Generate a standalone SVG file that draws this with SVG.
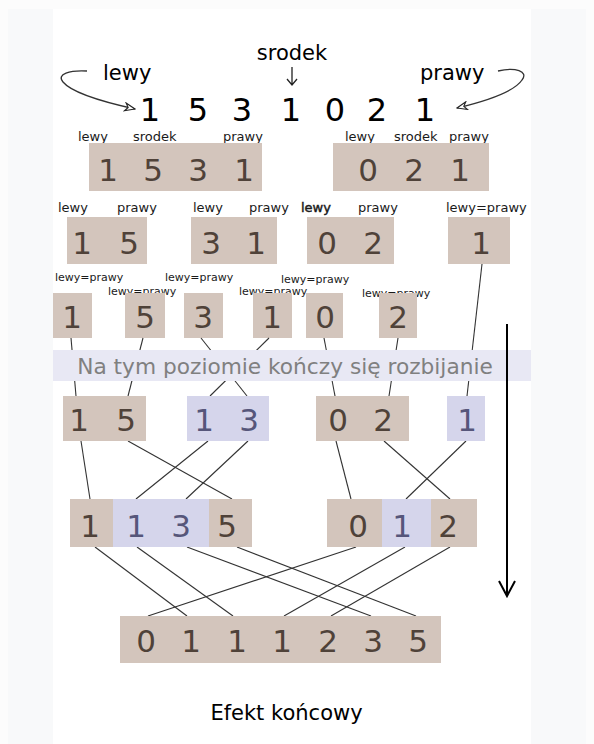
<svg xmlns="http://www.w3.org/2000/svg" width="594" height="744" viewBox="0 0 594 744">
  <style>
    text { font-family: "DejaVu Sans", Verdana, sans-serif; }
    .tan { fill: #d3c5bc; }
    .lav { fill: #d5d5eb; }
    .dt { font-size: 31px; fill: #4f4239; text-anchor: middle; }
    .dl { font-size: 31px; fill: #56567a; text-anchor: middle; }
    .big { font-size: 32px; fill: #000; text-anchor: middle; }
    .lbl { font-size: 13px; fill: #1a1a1a; }
    .lbs { font-size: 11px; fill: #1a1a1a; }
    .hd { font-size: 21px; fill: #000; }
    .link { stroke: #333; stroke-width: 1.1; fill: none; }
  </style>
  <defs>
    <marker id="openTri" viewBox="0 0 12 10" refX="11" refY="5" markerWidth="12" markerHeight="10" markerUnits="userSpaceOnUse" orient="auto">
      <path d="M1,1 L11,5 L1,9 L4,5 Z" fill="#fff" stroke="#222" stroke-width="1.1"/>
    </marker>
  </defs>

  <!-- page background -->
  <rect width="594" height="744" fill="#fcfcfc"/>
  <rect x="8" y="9" width="578" height="735" fill="#f8f9fa"/>
  <rect x="53" y="9" width="478" height="735" fill="#ffffff"/>

  <!-- header: input array with pointers -->
  <g id="header">
    <text class="hd" x="292" y="60" text-anchor="middle">srodek</text>
    <path d="M292,67 V85 M287,79 L292,85 L297,79" stroke="#222" stroke-width="1.3" fill="none"/>
    <text class="hd" x="103" y="80">lewy</text>
    <text class="hd" x="420" y="80">prawy</text>
    <path d="M87,71 C70,70 56,74 63,82 C72,93 108,103 135,109" stroke="#333" stroke-width="1.3" fill="none" marker-end="url(#openTri)"/>
    <path d="M498,71 C515,67 529,71 522,80 C514,92 482,102 457,108" stroke="#333" stroke-width="1.3" fill="none" marker-end="url(#openTri)"/>
    <text class="big" x="150" y="121">1</text>
    <text class="big" x="198" y="121">5</text>
    <text class="big" x="242" y="121">3</text>
    <text class="big" x="291" y="121">1</text>
    <text class="big" x="335" y="121">0</text>
    <text class="big" x="377" y="121">2</text>
    <text class="big" x="425" y="121">1</text>
  </g>

  <!-- level 1 split -->
  <g id="n1531">
    <text class="lbl" x="78" y="141">lewy</text>
    <text class="lbl" x="133" y="141">srodek</text>
    <text class="lbl" x="223" y="141">prawy</text>
    <rect class="tan" x="89" y="143" width="173" height="48"/>
    <text class="dt" x="108" y="181">1</text>
    <text class="dt" x="153" y="181">5</text>
    <text class="dt" x="198" y="181">3</text>
    <text class="dt" x="244" y="181">1</text>
  </g>
  <g id="n021">
    <text class="lbl" x="345" y="141">lewy</text>
    <text class="lbl" x="394" y="141">srodek</text>
    <text class="lbl" x="449" y="141">prawy</text>
    <rect class="tan" x="333" y="143" width="156" height="48"/>
    <text class="dt" x="368" y="181">0</text>
    <text class="dt" x="414" y="181">2</text>
    <text class="dt" x="460" y="181">1</text>
  </g>

  <!-- level 2 split -->
  <g id="n15">
    <text class="lbl" x="58" y="212">lewy</text>
    <text class="lbl" x="117" y="212">prawy</text>
    <rect class="tan" x="67" y="217" width="80" height="47"/>
    <text class="dt" x="82" y="254">1</text>
    <text class="dt" x="129" y="254">5</text>
  </g>
  <g id="n31">
    <text class="lbl" x="193" y="212">lewy</text>
    <text class="lbl" x="249" y="212">prawy</text>
    <rect class="tan" x="191" y="217" width="86" height="47"/>
    <text class="dt" x="211" y="254">3</text>
    <text class="dt" x="256" y="254">1</text>
  </g>
  <g id="n02">
    <text class="lbl" x="301" y="212" stroke="#1a1a1a" stroke-width="0.45">lewy</text>
    <text class="lbl" x="358" y="212">prawy</text>
    <rect class="tan" x="307" y="217" width="87" height="47"/>
    <text class="dt" x="327" y="254">0</text>
    <text class="dt" x="373" y="254">2</text>
  </g>
  <g id="n1r">
    <text class="lbl" x="446" y="212">lewy=prawy</text>
    <rect class="tan" x="448" y="217" width="62" height="47"/>
    <text class="dt" x="481" y="254">1</text>
  </g>

  <!-- level 3: single elements -->
  <g id="s1a">
    <text class="lbs" x="55" y="281">lewy=prawy</text>
    <rect class="tan" x="53" y="293" width="39" height="45"/>
    <text class="dt" x="72" y="328">1</text>
  </g>
  <g id="s5">
    <text class="lbs" x="108" y="295">lewy=prawy</text>
    <rect class="tan" x="125" y="293" width="40" height="45"/>
    <text class="dt" x="145" y="328">5</text>
  </g>
  <g id="s3">
    <text class="lbs" x="165" y="281">lewy=prawy</text>
    <rect class="tan" x="184" y="293" width="39" height="45"/>
    <text class="dt" x="203" y="328">3</text>
  </g>
  <g id="s1b">
    <text class="lbs" x="239" y="295">lewy=prawy</text>
    <rect class="tan" x="253" y="293" width="39" height="45"/>
    <text class="dt" x="272" y="328">1</text>
  </g>
  <g id="s0">
    <text class="lbs" x="281" y="283">lewy=prawy</text>
    <rect class="tan" x="306" y="293" width="37" height="45"/>
    <text class="dt" x="325" y="328">0</text>
  </g>
  <g id="s2">
    <text class="lbs" x="362" y="297">lewy=prawy</text>
    <rect class="tan" x="379" y="293" width="38" height="45"/>
    <text class="dt" x="398" y="328">2</text>
  </g>

  <!-- connectors -->
  <g id="connectors" class="link">
    <line x1="71" y1="338" x2="76" y2="396"/>
    <line x1="143" y1="338" x2="128" y2="396"/>
    <line x1="201" y1="338" x2="247" y2="396"/>
    <line x1="269" y1="338" x2="210" y2="396"/>
    <line x1="324" y1="338" x2="335" y2="396"/>
    <line x1="398" y1="338" x2="389" y2="396"/>
    <line x1="482" y1="264" x2="467" y2="396"/>

    <line x1="81" y1="441" x2="90" y2="499"/>
    <line x1="128" y1="441" x2="232" y2="499"/>
    <line x1="208" y1="441" x2="136" y2="499"/>
    <line x1="248" y1="441" x2="186" y2="499"/>
    <line x1="336" y1="441" x2="351" y2="499"/>
    <line x1="384" y1="441" x2="450" y2="499"/>
    <line x1="466" y1="441" x2="406" y2="499"/>

    <line x1="356" y1="547" x2="148" y2="616"/>
    <line x1="95" y1="547" x2="187" y2="616"/>
    <line x1="137" y1="547" x2="233" y2="616"/>
    <line x1="405" y1="547" x2="284" y2="616"/>
    <line x1="450" y1="547" x2="331" y2="616"/>
    <line x1="187" y1="547" x2="371" y2="616"/>
    <line x1="237" y1="547" x2="416" y2="616"/>
  </g>

  <!-- band marking the end of splitting -->
  <g id="band">
    <rect x="53" y="350" width="478" height="31" fill="#e8e8f4"/>
    <text x="285" y="374" font-size="21.7" fill="#808080" text-anchor="middle">Na tym poziomie kończy się rozbijanie</text>
  </g>

  <!-- merge level 1 -->
  <g id="m15">
    <rect class="tan" x="63" y="396" width="83" height="45"/>
    <text class="dt" x="79" y="431">1</text>
    <text class="dt" x="126" y="431">5</text>
  </g>
  <g id="m13">
    <rect class="lav" x="187" y="396" width="82" height="45"/>
    <text class="dl" x="204" y="431">1</text>
    <text class="dl" x="249" y="431">3</text>
  </g>
  <g id="m02">
    <rect class="tan" x="316" y="396" width="93" height="45"/>
    <text class="dt" x="338" y="431">0</text>
    <text class="dt" x="383" y="431">2</text>
  </g>
  <g id="m1">
    <rect class="lav" x="447" y="396" width="38" height="45"/>
    <text class="dl" x="467" y="431">1</text>
  </g>

  <!-- merge level 2 -->
  <g id="m1135">
    <rect class="tan" x="70" y="499" width="43" height="48"/>
    <rect class="lav" x="113" y="499" width="96" height="48"/>
    <rect class="tan" x="209" y="499" width="43" height="48"/>
    <text class="dt" x="90" y="537">1</text>
    <text class="dl" x="136" y="537">1</text>
    <text class="dl" x="181" y="537">3</text>
    <text class="dt" x="227" y="537">5</text>
  </g>
  <g id="m012">
    <rect class="tan" x="327" y="499" width="55" height="48"/>
    <rect class="lav" x="382" y="499" width="49" height="48"/>
    <rect class="tan" x="431" y="499" width="46" height="48"/>
    <text class="dt" x="358" y="537">0</text>
    <text class="dl" x="402" y="537">1</text>
    <text class="dt" x="448" y="537">2</text>
  </g>

  <!-- final sorted array -->
  <g id="result">
    <rect class="tan" x="120" y="616" width="321" height="47"/>
    <text class="dt" x="146" y="652">0</text>
    <text class="dt" x="191" y="652">1</text>
    <text class="dt" x="237" y="652">1</text>
    <text class="dt" x="282" y="652">1</text>
    <text class="dt" x="328" y="652">2</text>
    <text class="dt" x="373" y="652">3</text>
    <text class="dt" x="418" y="652">5</text>
  </g>

  <!-- direction arrow -->
  <g id="flow">
    <path d="M507,324 V595 M499,581 L507,596 L515,581" stroke="#000" stroke-width="2" fill="none"/>
  </g>

  <g id="caption">
    <text x="286.5" y="720" font-size="21" fill="#000" text-anchor="middle">Efekt końcowy</text>
  </g>
</svg>
